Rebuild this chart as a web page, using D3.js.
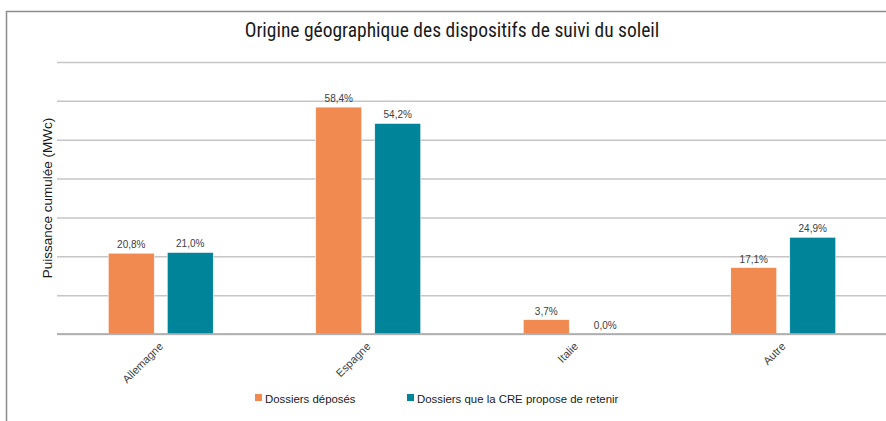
<!DOCTYPE html>
<html>
<head>
<meta charset="utf-8">
<script src="https://cdn.jsdelivr.net/npm/d3@7"></script>
<style>
  body { margin: 0; background: #fff; }
  svg { display: block; font-family: 'Liberation Sans', Arial, sans-serif; }
  .grid line { stroke: #c6c6c6; stroke-width: 1.5; }
  .grid path { display: none; }
  .xaxis path, .xaxis line { display: none; }
  .xaxis text { font-size: 11px; fill: #404040; }
  .label { font-size: 10px; fill: #404040; }
</style>
</head>
<body>
<svg id="chart" width="886" height="421"></svg>
<script>
const categories = ['Allemagne', 'Espagne', 'Italie', 'Autre']
const series = ['Dossiers déposés', 'Dossiers que la CRE propose de retenir']
const deposes = [20.8, 58.4, 3.7, 17.1]
const retenus = [21.0, 54.2, 0.0, 24.9]
const yTicks = [0, 10, 20, 30, 40, 50, 60, 70]
const colors = ['#f08a50', '#00849a']

const svg = d3.select('#chart')
const margin = { top: 62, left: 57, bottom: 87, right: -1 }
const width = +svg.attr('width') - margin.left - margin.right
const height = +svg.attr('height') - margin.top - margin.bottom

// frame
svg.append('path')
  .attr('d', 'M6.5,421 V11.5 H886')
  .attr('fill', 'none').attr('stroke', '#8c8c8c').attr('stroke-width', 1.5)

svg.append('text')
  .attr('x', 452).attr('y', 37)
  .attr('text-anchor', 'middle')
  .style('font-family', "'Liberation Sans Narrow', 'Roboto Condensed', sans-serif")
  .style('font-size', '19.5px').attr('fill', '#1a1a1a')
  .text('Origine géographique des dispositifs de suivi du soleil')

const g = svg.append('g').attr('transform', `translate(${margin.left},${margin.top})`)

const x0 = d3.scaleBand().domain(categories).range([0, width])
const y = d3.scaleLinear().domain([0, 70]).range([height, 0])

g.append('g').classed('grid', true)
  .call(d3.axisLeft(y).tickValues(yTicks).tickSize(-width).tickFormat(''))

const barW = 46
const gap = 13
const rows = categories.map((c, i) => ({ c, v: [deposes[i], retenus[i]] }))

const grp = g.selectAll('.cat').data(rows).join('g')
  .attr('transform', d => `translate(${x0(d.c) + x0.bandwidth() / 2},0)`)

grp.selectAll('rect').data(d => d.v).join('rect')
  .attr('x', (d, j) => j === 0 ? -barW - gap / 2 : gap / 2)
  .attr('width', barW)
  .attr('y', d => y(d))
  .attr('height', d => y(0) - y(d))
  .attr('fill', (d, j) => colors[j])
  .attr('stroke', '#fff').attr('stroke-width', 0.6)

grp.selectAll('text').data(d => d.v).join('text')
  .classed('label', true)
  .attr('x', (d, j) => j === 0 ? -barW / 2 - gap / 2 : barW / 2 + gap / 2)
  .attr('y', d => y(d) - 5)
  .attr('text-anchor', 'middle')
  .text(d => d3.format('.1f')(d).replace('.', ',') + '%')

// baseline
g.append('line')
  .attr('x1', 0).attr('x2', width)
  .attr('y1', y(0)).attr('y2', y(0))
  .attr('stroke', '#a6a6a6').attr('stroke-width', 1.5)

g.append('g').classed('xaxis', true)
  .attr('transform', `translate(0,${height})`)
  .call(d3.axisBottom(x0).tickSize(0).tickPadding(0))
  .selectAll('text')
  .attr('text-anchor', 'end')
  .attr('dy', 0)
  .attr('transform', 'translate(3,13) rotate(-45)')

svg.append('text')
  .attr('transform', 'translate(52,198) rotate(-90)')
  .attr('text-anchor', 'middle')
  .style('font-size', '13.5px').attr('fill', '#1a1a1a')
  .text('Puissance cumulée (MWc)')

const legend = svg.append('g')
const lx = [255, 407]
series.forEach((s, i) => {
  legend.append('rect').attr('x', lx[i]).attr('y', 394).attr('width', 7).attr('height', 7).attr('fill', colors[i])
  legend.append('text').attr('x', lx[i] + 10).attr('y', 402.5)
    .style('font-size', '11.4px').attr('fill', '#1a1a1a').text(s)
})
</script>
</body>
</html>
